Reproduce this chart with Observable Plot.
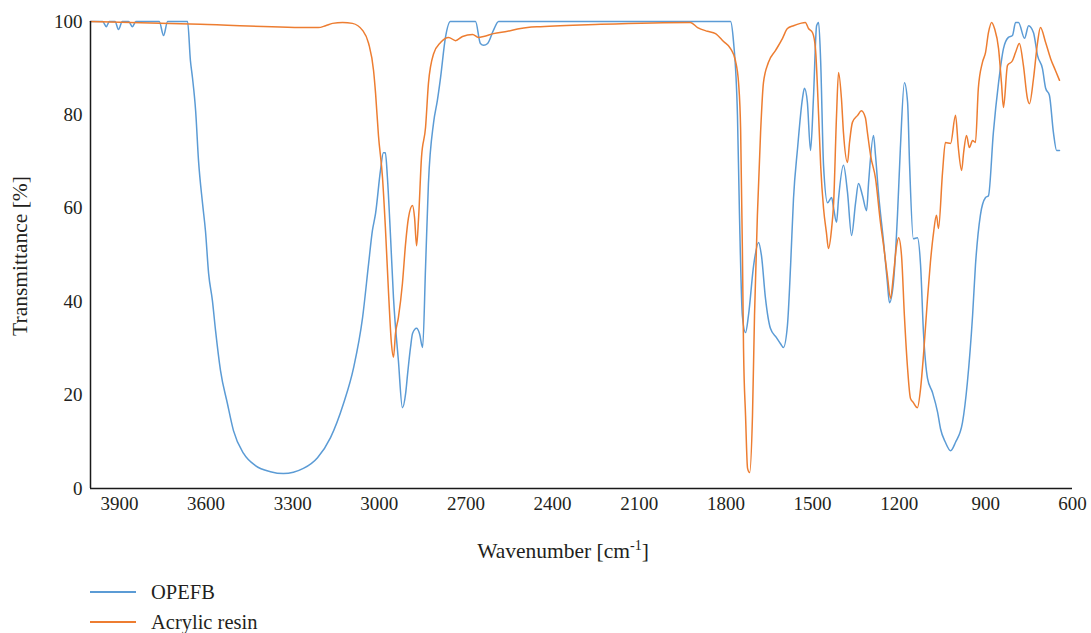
<!DOCTYPE html>
<html><head><meta charset="utf-8">
<script src="https://cdn.jsdelivr.net/npm/d3@7"></script>
<script src="https://cdn.jsdelivr.net/npm/@observablehq/plot@0.6"></script>
<style>
body{margin:0;background:#fff;}
#wrap{position:relative;width:1091px;height:633px;font-family:"Liberation Serif",serif;color:#231f20;overflow:hidden;}
#legend{position:absolute;left:0;top:0;width:1091px;font-size:20.5px;}
.item{position:absolute;left:90px;height:22px;line-height:22px;white-space:nowrap;}
.item svg{position:absolute;left:0;top:0;}
.item span{position:absolute;left:61px;top:0;}
</style></head><body><div id="wrap"></div>
<script>
const seriesNames = ["OPEFB", "Acrylic resin"];
const seriesColors = ["#5b9bd5", "#ed7d31"];
const xTicks = [3900, 3600, 3300, 3000, 2700, 2400, 2100, 1800, 1500, 1200, 900, 600];
const yTicks = [0, 20, 40, 60, 80, 100];

const opefbWavenumber = [
  4000,3958,3945,3935,3915,3903,3890,3868,3855,3843,
  3762,3747,3733,3664,3654,3647,3636,3626,3612,3602,
  3591,3578,3567,3550,3526,3505,3470,3429,3377,3332,
  3263,3214,3169,3124,3089,3058,3037,3024,3013,2996,
  2986,2979,2972,2961,2951,2934,2920,2909,2902,2892,
  2885,2871,2861,2850,2840,2830,2812,2799,2788,2771,
  2754,2667,2650,2639,2625,2605,2587,1784,1774,1760,
  1753,1743,1732,1722,1704,1687,1677,1663,1646,1625,
  1611,1601,1587,1576,1566,1552,1535,1528,1518,1507,
  1497,1486,1479,1472,1462,1448,1434,1427,1417,1410,
  1393,1379,1365,1351,1341,1327,1313,1306,1289,1282,
  1272,1254,1241,1234,1220,1206,1196,1182,1171,1164,
  1151,1137,1126,1116,1102,1085,1067,1057,1040,1022,
  1005,981,964,946,936,919,901,891,874,856,
  839,822,808,797,787,766,752,735,721,704,
  693,680,666,655,645
];
const opefbTransmittance = [
  100,100,98.9,100,100,98.3,100,100,98.9,100,
  100,97.0,100,100,91.6,88.0,80.9,70.2,61.0,55.2,
  46.0,40.3,33.8,25.3,18.2,12.4,7.5,4.9,3.6,3.2,
  4.3,6.6,10.9,18.2,25.9,36.6,48.2,55.2,58.9,68.1,
  71.9,71.9,66.6,53.7,40.9,27.4,17.3,20.3,24.6,30.2,
  33.2,34.3,33.2,30.2,47.3,65.3,78.4,83.1,88.0,96.6,
  100,100,95.3,94.9,95.3,98.1,100,100,95.9,79.9,
  58.5,37.0,33.4,37.0,47.8,52.7,49.9,40.7,34.3,32.3,
  31.0,30.2,34.9,47.8,62.1,72.8,83.5,85.7,82.7,72.4,
  83.5,99.1,99.8,91.6,69.2,61.2,62.3,60.0,57.0,62.1,
  69.2,63.4,54.2,61.2,65.3,62.7,59.5,65.5,75.6,71.3,
  63.4,52.7,44.1,39.8,44.1,58.5,72.8,86.9,82.7,69.2,
  53.5,53.7,47.8,33.4,23.6,20.6,16.3,12.8,9.9,8.1,
  9.9,14.1,22.7,37.0,47.8,58.5,62.3,62.7,76.2,86.9,
  94.2,96.6,97.0,99.8,99.8,96.4,99.1,97.6,92.7,89.9,
  85.7,84.2,76.2,72.4,72.4
];

const acrylicWavenumber = [
  4000,3620,3231,3211,3186,3162,3127,3093,3058,3037,
  3020,3013,3003,2989,2979,2968,2958,2951,2944,2934,
  2920,2909,2899,2885,2878,2871,2864,2854,2840,2830,
  2812,2788,2760,2736,2712,2677,2657,2639,2605,2556,
  2511,2487,2442,2234,1923,1898,1864,1836,1808,1784,
  1767,1756,1749,1743,1739,1732,1725,1718,1708,1701,
  1691,1680,1670,1653,1628,1604,1587,1566,1542,1525,
  1514,1500,1490,1479,1472,1462,1452,1445,1434,1427,
  1417,1410,1400,1393,1379,1372,1362,1344,1331,1317,
  1310,1299,1282,1265,1254,1241,1230,1220,1209,1202,
  1192,1182,1171,1161,1151,1137,1126,1116,1102,1092,
  1081,1071,1064,1050,1040,1022,1005,995,984,977,
  967,957,946,936,926,912,901,891,880,870,
  856,846,839,825,808,797,784,770,756,749,
  735,721,711,693,676,659,645
];
const acrylicTransmittance = [
  100,99.4,98.7,98.7,99.1,99.6,99.8,99.6,98.1,95.3,
  89.5,84.6,75.6,66.6,55.9,41.8,31.0,28.1,33.2,36.6,
  43.9,52.5,58.0,60.6,58.0,52.0,58.0,70.9,77.3,86.7,
  93.1,95.5,96.6,95.9,96.8,97.2,96.6,96.8,97.4,97.9,
  98.5,98.7,98.9,99.4,99.8,98.7,97.9,97.4,95.7,94.2,
  91.6,86.7,76.7,51.4,30.0,15.6,4.3,3.4,15.6,37.0,
  58.5,76.2,86.9,91.2,93.8,96.4,98.5,99.1,99.6,99.8,
  98.5,97.6,94.2,79.9,69.2,60.0,54.8,51.4,55.7,61.2,
  79.9,89.1,83.5,76.2,69.8,74.1,78.4,79.9,80.9,79.4,
  76.2,71.3,66.4,57.0,52.0,45.6,40.7,45.6,52.0,53.7,
  49.9,37.0,25.7,19.3,18.4,17.3,21.4,28.5,40.7,48.4,
  54.8,58.5,55.7,67.7,74.1,73.9,79.9,72.8,68.1,71.9,
  75.6,73.0,74.5,74.1,85.7,91.2,93.4,97.6,99.8,98.5,
  94.2,86.9,81.6,90.6,91.6,93.4,95.3,90.6,83.5,82.4,
  87.8,95.5,98.7,95.5,92.1,89.5,87.4
];

const opefbRows = opefbWavenumber.map((w, i) => ({wn: w, t: opefbTransmittance[i], series: seriesNames[0]}));
const acrylicRows = acrylicWavenumber.map((w, i) => ({wn: w, t: acrylicTransmittance[i], series: seriesNames[1]}));

const textColor = "#231f20";
const chart = Plot.plot({
  width: 1091,
  height: 575,
  marginLeft: 90,
  marginRight: 19,
  marginTop: 21,
  marginBottom: 87,
  style: {fontFamily: '"Liberation Serif", serif', fontSize: "19px", color: textColor, background: "white", overflow: "visible"},
  x: {domain: [4000, 600], ticks: xTicks, tickSize: 0, tickPadding: 8, label: null, tickFormat: d => String(d)},
  y: {domain: [0, 100], ticks: yTicks, tickSize: 0, tickPadding: 8, label: null},
  marks: [
    Plot.line(opefbRows, {x: "wn", y: "t", stroke: seriesColors[0], strokeWidth: 1.5, curve: "monotone-x"}),
    Plot.line(acrylicRows, {x: "wn", y: "t", stroke: seriesColors[1], strokeWidth: 1.5, curve: "monotone-x"}),
    Plot.ruleY([0], {stroke: "#1a1a1a", strokeWidth: 1.5}),
    Plot.ruleX([4000], {stroke: "#1a1a1a", strokeWidth: 1.5})
  ]
});

const svg = d3.select(chart);
const xl = svg.append("text")
  .attr("x", 563).attr("y", 558)
  .attr("text-anchor", "middle")
  .attr("fill", textColor)
  .style("font-size", "21.5px");
xl.append("tspan").text("Wavenumber [cm");
xl.append("tspan").attr("dy", -8).style("font-size", "14px").text("-1");
xl.append("tspan").attr("dy", 8).text("]");

svg.append("text")
  .attr("transform", "translate(27,256) rotate(-90)")
  .attr("text-anchor", "middle")
  .attr("fill", textColor)
  .style("font-size", "21.5px")
  .text("Transmittance [%]");

const wrap = document.getElementById("wrap");
wrap.appendChild(chart);

const legend = document.createElement("div");
legend.id = "legend";
const legendTops = [581, 611];
seriesNames.forEach((name, i) => {
  const item = document.createElement("div");
  item.className = "item";
  item.style.top = legendTops[i] + "px";
  item.innerHTML = `<svg width="46" height="22"><line x1="0" x2="46" y1="11" y2="11" stroke="${seriesColors[i]}" stroke-width="2"/></svg><span>${name}</span>`;
  legend.appendChild(item);
});
wrap.appendChild(legend);
</script>
</body></html>
